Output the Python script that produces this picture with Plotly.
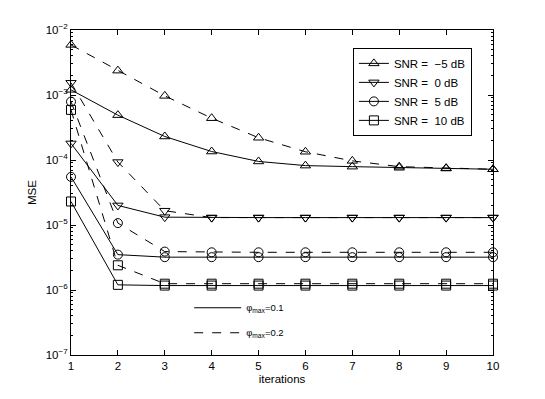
import plotly.graph_objects as go

iterations = [1, 2, 3, 4, 5, 6, 7, 8, 9, 10]

# phi_max = 0.1 (solid)
mse_m5_a = [1.2e-3, 4.9e-4, 2.3e-4, 1.35e-4, 9.5e-5, 8.2e-5, 7.9e-5, 7.6e-5, 7.4e-5, 7.2e-5]
mse_0_a = [1.8e-4, 2.0e-5, 1.32e-5, 1.3e-5, 1.3e-5, 1.3e-5, 1.3e-5, 1.3e-5, 1.3e-5, 1.3e-5]
mse_5_a = [5.5e-5, 3.5e-6, 3.2e-6, 3.2e-6, 3.2e-6, 3.2e-6, 3.2e-6, 3.2e-6, 3.2e-6, 3.2e-6]
mse_10_a = [2.3e-5, 1.2e-6, 1.17e-6, 1.17e-6, 1.17e-6, 1.17e-6, 1.17e-6, 1.17e-6, 1.17e-6, 1.17e-6]

# phi_max = 0.2 (dashed)
mse_m5_b = [5.9e-3, 2.37e-3, 9.7e-4, 4.4e-4, 2.2e-4, 1.34e-4, 9.7e-5, 7.9e-5, 7.5e-5, 7.2e-5]
mse_0_b = [1.54e-3, 9.3e-5, 1.66e-5, 1.3e-5, 1.3e-5, 1.3e-5, 1.3e-5, 1.3e-5, 1.3e-5, 1.3e-5]
mse_5_b = [7.9e-4, 1.07e-5, 3.9e-6, 3.8e-6, 3.8e-6, 3.8e-6, 3.8e-6, 3.8e-6, 3.8e-6, 3.8e-6]
mse_10_b = [5.9e-4, 2.4e-6, 1.25e-6, 1.25e-6, 1.25e-6, 1.25e-6, 1.25e-6, 1.25e-6, 1.25e-6, 1.25e-6]

snr_names = ["SNR =  \u22125 dB", "SNR =  0 dB", "SNR =  5 dB", "SNR =  10 dB"]
symbols = ["triangle-up-open", "triangle-down-open", "circle-open", "square-open"]
solid = [mse_m5_a, mse_0_a, mse_5_a, mse_10_a]
dashed = [mse_m5_b, mse_0_b, mse_5_b, mse_10_b]

ytickvals = [1e-7, 1e-6, 1e-5, 1e-4, 1e-3, 1e-2]
yticktext = ["10<sup>\u22127</sup>", "10<sup>\u22126</sup>", "10<sup>\u22125</sup>",
             "10<sup>\u22124</sup>", "10<sup>\u22123</sup>", "10<sup>\u22122</sup>"]
yminor = [k * d for d in ytickvals[:-1] for k in range(2, 10)]

fig = go.Figure()

for name, sym, ys in zip(snr_names, symbols, solid):
    fig.add_trace(go.Scatter(
        x=iterations, y=ys, name=name, mode="lines+markers",
        line=dict(color="black", width=1),
        marker=dict(symbol=sym, size=9, color="black", line=dict(width=1)),
        cliponaxis=False, legend="legend"))

for name, sym, ys in zip(snr_names, symbols, dashed):
    fig.add_trace(go.Scatter(
        x=iterations, y=ys, name=name, mode="lines+markers", showlegend=False,
        line=dict(color="black", width=1, dash="dash"),
        marker=dict(symbol=sym, size=9, color="black", line=dict(width=1)),
        cliponaxis=False))

# line-style key
fig.add_trace(go.Scatter(x=[None], y=[None], mode="lines", name="\u03c6<sub>max</sub>=0.1",
                         line=dict(color="black", width=1), legend="legend2", legendgroup="a"))
fig.add_trace(go.Scatter(x=[None], y=[None], mode="lines", name="\u03c6<sub>max</sub>=0.2",
                         line=dict(color="black", width=1, dash="dash"), legend="legend2", legendgroup="b"))

axis_common = dict(showline=True, linecolor="black", linewidth=1, mirror="allticks",
                   ticks="inside", tickcolor="black", showgrid=False, zeroline=False,
                   tickfont=dict(size=11.5, color="black"))

# page body has an 8px margin, so the plot box is offset by that amount
fig.update_layout(
    width=545, height=399,
    margin=dict(l=63, r=60, t=22, b=52),
    paper_bgcolor="white", plot_bgcolor="white",
    font=dict(family="Liberation Sans, Arial, sans-serif", size=11.5, color="black"),
    xaxis=dict(range=[1, 10], dtick=1, ticklen=5,
               title=dict(text="iterations", standoff=4, font=dict(size=11.5)), **axis_common),
    yaxis=dict(type="log", range=[-7, -2], tickvals=ytickvals, ticktext=yticktext, ticklen=5,
               minor=dict(ticks="inside", ticklen=2, tickcolor="black", showgrid=False,
                          tickvals=yminor),
               title=dict(text="MSE", standoff=6, font=dict(size=11.5)), **axis_common),
    legend=dict(x=0.668, y=0.945, xanchor="left", yanchor="top",
                bgcolor="white", bordercolor="black", borderwidth=1,
                font=dict(size=11.5), tracegroupgap=0, itemwidth=30),
    legend2=dict(x=0.28, y=0.19, xanchor="left", yanchor="top",
                 bgcolor="rgba(0,0,0,0)", borderwidth=0, itemwidth=47,
                 font=dict(size=9.5), traceorder="grouped", tracegroupgap=6),
)

fig.write_html("out.html")
